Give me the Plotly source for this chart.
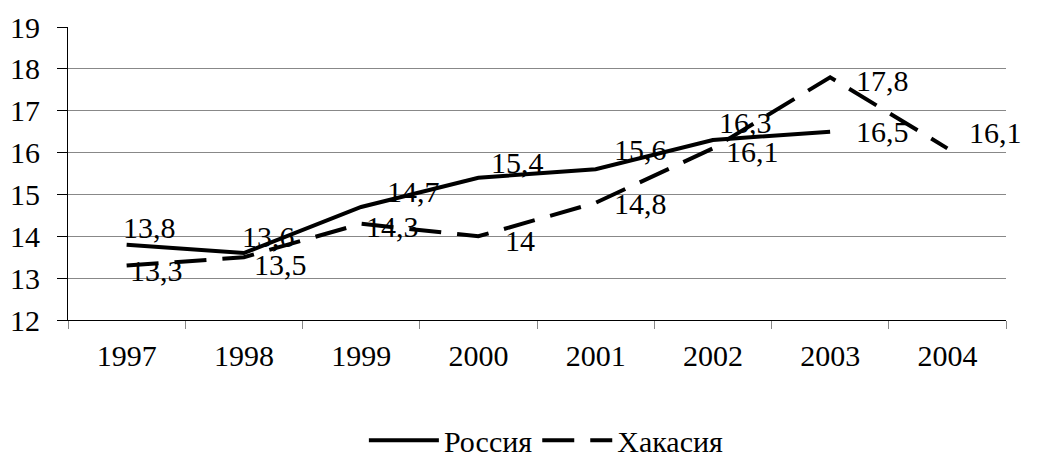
import plotly.graph_objects as go

years = ["1997", "1998", "1999", "2000", "2001", "2002", "2003", "2004"]
russia = [13.8, 13.6, 14.7, 15.4, 15.6, 16.3, 16.5, None]
khakasia = [13.3, 13.5, 14.3, 14.0, 14.8, 16.1, 17.8, 16.1]
russia_labels = ["13,8", "13,6", "14,7", "15,4", "15,6", "16,3", "16,5", None]
khakasia_labels = ["13,3", "13,5", "14,3", "14", "14,8", "16,1", "17,8", "16,1"]

# label offsets in pixels (dx right, dy up)
russia_off = [(23, 17), (25, 17), (52, 15), (39, 15), (45, 20), (33, 18), (52, 0), None]
khakasia_off = [(30, -5), (37, -7), (31, -3), (42, -4), (45, -1), (40, -3), (52, -3), (48, 16)]

FONT = "Liberation Serif"
FS = 30
tf = dict(family=FONT, size=FS, color="black")

fig = go.Figure()
fig.add_trace(go.Scatter(x=years, y=russia, mode="lines", name="Россия",
                         line=dict(color="black", width=4)))
fig.add_trace(go.Scatter(x=years, y=khakasia, mode="lines", name="Хакасия",
                         line=dict(color="black", width=4, dash="32px,16px")))

for ys, labs, offs in [(russia, russia_labels, russia_off),
                       (khakasia, khakasia_labels, khakasia_off)]:
    for i, (y, t, o) in enumerate(zip(ys, labs, offs)):
        if y is None:
            continue
        fig.add_annotation(x=i, y=y, xref="x", yref="y", text=t, showarrow=False,
                           xanchor="center", yanchor="middle", xshift=o[0], yshift=o[1],
                           font=tf)

fig.update_layout(
    width=1038, height=459,
    margin=dict(l=68, r=32, t=27, b=139, autoexpand=False),
    paper_bgcolor="white", plot_bgcolor="white",
    font=tf,
    legend=dict(orientation="h", x=0.51, xanchor="center", y=-0.41, yanchor="middle",
                font=tf, itemwidth=70),
    xaxis=dict(type="category", range=[-0.5, 7.5], showline=True, linecolor="black",
               ticks="outside", tickson="boundaries", ticklen=8, tickcolor="#888888",
               showgrid=False, zeroline=False, tickfont=tf, ticklabelstandoff=9,
               automargin=False),
    yaxis=dict(range=[12, 19], dtick=1, showline=True, linecolor="black",
               ticks="outside", ticklen=10, tickcolor="black", showgrid=True,
               gridcolor="#888888", zeroline=False, tickfont=tf, ticklabelstandoff=11,
               automargin=False),
)

fig.write_html("out.html", config={"displayModeBar": False},
               post_script="document.body.style.margin='0';")
